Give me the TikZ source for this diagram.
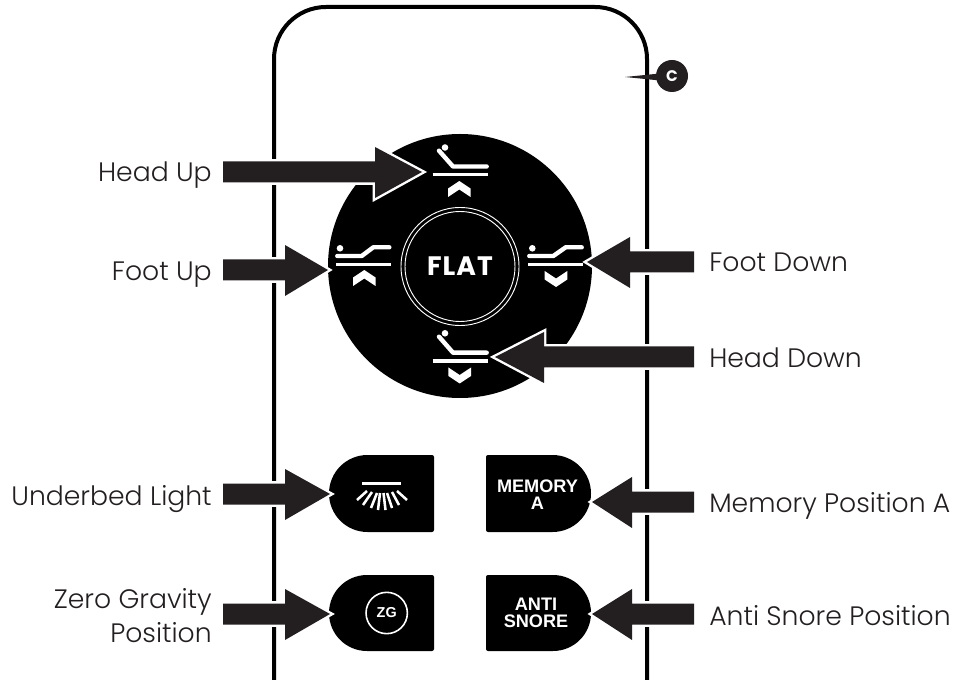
\documentclass[tikz,border=0pt]{standalone}
\usepackage{fontspec}
\setmainfont{Poppins}
\newfontfamily\btnfont{Liberation Sans}
\newfontfamily\lblfont{Poppins Light}
\definecolor{ink}{HTML}{231F20}
\tikzset{
  x=0.75pt,y=-0.75pt,
  blockarrow/.style={fill=ink,line join=miter,preaction={draw=white,line width=3.6pt,miter limit=6}},
  shell/.style={draw=black,line width=3pt},
  padbtn/.style={fill=black},
  bedline/.style={draw=white,line width=3.3pt,line cap=round,line join=round},
  baseline/.style={draw=white,line width=2.7pt},
  chev/.style={fill=white},
  ray/.style={draw=white,line width=1.9pt},
  lab/.style={text=ink,font=\lblfont\fontsize{20pt}{26pt}\selectfont,inner sep=0pt},
  btntext/.style={text=white,align=center,inner sep=0pt,font=\btnfont\bfseries\fontsize{13.6pt}{13pt}\selectfont},
}
\newcommand{\harrow}[4]{% tipx tipy tail base
  \fill[blockarrow] (#3,#2-10.5) -- (#4,#2-10.5) -- (#4,#2-25) -- (#1,#2) -- (#4,#2+26) -- (#4,#2+10.5) -- (#3,#2+10.5) -- cycle;}
\newcommand{\chevup}[2]{\fill[chev] (#1,#2) -- (#1+11.3,#2+7.5) -- (#1+11.3,#2+16) -- (#1,#2+8.5) -- (#1-11.3,#2+16) -- (#1-11.3,#2+7.5) -- cycle;}
\newcommand{\chevdn}[2]{\fill[chev] (#1,#2) -- (#1+11.3,#2-7.5) -- (#1+11.3,#2-16) -- (#1,#2-8.5) -- (#1-11.3,#2-16) -- (#1-11.3,#2-7.5) -- cycle;}
\newcommand{\btnL}[4]{%
  \pgfmathsetmacro\rr{(#4-#3)/2}\pgfmathsetmacro\mm{(#4+#3)/2}\pgfmathsetmacro\cx{#2+\rr}\pgfmathsetmacro\kk{\rr*0.5523}
  \fill[padbtn] (#1-2,#3) .. controls (#1-1,#3) and (#1,#3+1) .. (#1,#3+2) -- (#1,#4-2) .. controls (#1,#4-1) and (#1-1,#4) .. (#1-2,#4) -- (\cx,#4) .. controls (\cx-\kk,#4) and (#2,\mm+\kk) .. (#2,\mm) .. controls (#2,\mm-\kk) and (\cx-\kk,#3) .. (\cx,#3) -- cycle;}
\newcommand{\btnR}[4]{%
  \pgfmathsetmacro\rr{(#4-#3)/2}\pgfmathsetmacro\mm{(#4+#3)/2}\pgfmathsetmacro\cx{#2-\rr}\pgfmathsetmacro\kk{\rr*0.5523}
  \fill[padbtn] (#1+2,#3) .. controls (#1+1,#3) and (#1,#3+1) .. (#1,#3+2) -- (#1,#4-2) .. controls (#1,#4-1) and (#1+1,#4) .. (#1+2,#4) -- (\cx,#4) .. controls (\cx+\kk,#4) and (#2,\mm+\kk) .. (#2,\mm) .. controls (#2,\mm-\kk) and (\cx+\kk,#3) .. (\cx,#3) -- cycle;}
\begin{document}
\begin{tikzpicture}
\useasboundingbox (0,0) rectangle (959,680);
\draw[shell,rounded corners=39pt] (274,680) -- (274,7) -- (647,7) -- (647,680);
\fill[ink] (625,77) -- (660,73.5) -- (660,80.5) -- cycle;
\node[circle,fill=ink,minimum size=24pt,inner sep=0pt,text=white,font=\fontsize{11.5pt}{11.5pt}\selectfont\bfseries] (markc) at (672,76) {C};
\node[circle,fill=black,minimum size=198pt,inner sep=0pt] (pad) at (460,266) {};
\node[circle,draw=white,line width=0.7pt,minimum size=88.5pt,inner sep=0pt] (ringa) at (460,266.5) {};
\node[circle,draw=white,line width=0.7pt,minimum size=82.5pt,inner sep=0pt,text=white,font=\addfontfeatures{LetterSpace=4}\fontsize{20pt}{20pt}\selectfont\bfseries] (flat) at (460,266.5) {FLAT};
% head up
\fill[white] (445,147.5) circle[radius=3.3];
\draw[bedline] (439,150.7) -- (453,166.5) -- (486.7,166.5);
\draw[baseline] (432.7,174.7) -- (487.7,174.7);
\chevup{459.3}{181}
% head down
\fill[white] (445,333.3) circle[radius=3.3];
\draw[bedline] (439,336.7) -- (453,352.7) -- (486.7,352.7);
\draw[baseline] (432.7,361) -- (487.7,361);
\chevdn{459.7}{383.5}
% foot up
\fill[white] (340,248.3) circle[radius=3.3];
\draw[bedline] (337.3,256) -- (361.7,256) -- (373.3,247.3) -- (389.3,247.3);
\draw[baseline] (336,264.7) -- (391,264.7);
\chevup{364.3}{270}
% foot down
\fill[white] (532.3,248.3) circle[radius=3.3];
\draw[bedline] (529.3,256) -- (553.3,256) -- (565.7,247.3) -- (581.7,247.3);
\draw[baseline] (528.3,264.7) -- (583.3,264.7);
\chevdn{556}{287}
% buttons
\btnL{434}{329}{455}{532}
\btnL{434}{329}{575}{651}
\btnR{486}{591}{455}{532}
\btnR{486}{591}{575}{651}
\node[btntext] (mema) at (537.5,495) {MEMORY\\A};
\node[btntext] (anti) at (536,613) {ANTI\\SNORE};
\node[circle,draw=white,line width=1.2pt,minimum size=31pt,inner sep=0pt,text=white,font=\btnfont\bfseries\fontsize{10.8pt}{10.8pt}\selectfont] (zg) at (386.7,613) {ZG};
% light
\draw[draw=white,line width=2pt] (362.3,483.3) -- (401,483.3);
\foreach \xa/\ya/\xb/\yb in {357/500/367/491, 363/505/372/492, 371/508/377/493, 378/510/380/493, 385.5/510/383.5/493, 392/508/387/493, 399/505/392/492, 407/500/397/491}{
  \draw[ray] (\xa,\ya) -- (\xb,\yb);
}
% arrows
\harrow{422}{172}{223}{375}
\harrow{328}{270}{223}{285}
\harrow{330}{494}{223}{285}
\harrow{330}{614}{223}{285}
\harrow{587}{262}{694}{630}
\harrow{495}{357}{694}{544}
\harrow{592}{502}{694}{632}
\harrow{592}{614}{694}{632}
% labels
\node[lab,anchor=base east] (l1) at (212,182) {Head Up};
\node[lab,anchor=base east] (l2) at (212,281) {Foot Up};
\node[lab,anchor=base east] (l3) at (212,505) {Underbed Light};
\node[lab,anchor=base east] (l4a) at (212,608) {Zero Gravity};
\node[lab,anchor=base east] (l4b) at (212,642.7) {Position};
\node[lab,anchor=base west] (r1) at (709,271.7) {Foot Down};
\node[lab,anchor=base west] (r2) at (709,367.3) {Head Down};
\node[lab,anchor=base west] (r3) at (709,512.5) {Memory Position A};
\node[lab,anchor=base west] (r4) at (709,625) {Anti Snore Position};
\end{tikzpicture}
\end{document}
